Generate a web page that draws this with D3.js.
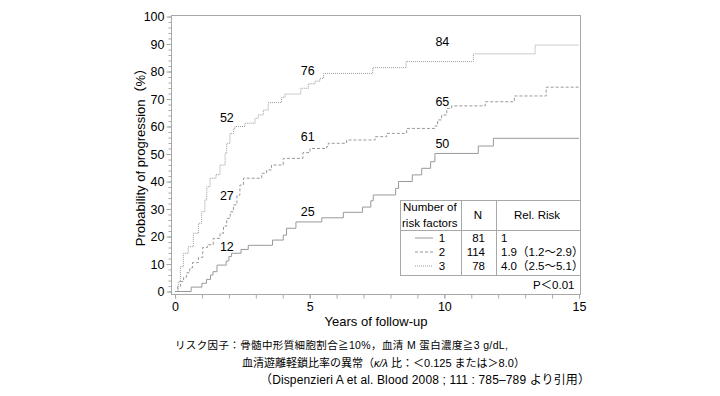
<!DOCTYPE html>
<html>
<head>
<meta charset="utf-8">
<script src="https://cdn.jsdelivr.net/npm/d3@7"></script>
<style>
  body { margin: 0; background: #fff; }
  svg text { font-family: "Liberation Sans", Arial, "Noto Sans CJK JP", sans-serif; fill: #000; }
</style>
</head>
<body>
<svg id="chart" width="720" height="396"></svg>
<script>
// Kaplan-Meier style progression curves, by number of risk factors
const groups = ["1", "2", "3"];
const groupN = [81, 114, 78];
const relRisk = ["1", "1.9（1.2～2.9）", "4.0（2.5～5.1）"];

// step curves: years and cumulative probability (%)
const years1 = [0, 0.6, 1.0, 1.17, 1.32, 1.41, 1.56, 1.9, 2.0, 2.1, 2.45, 2.72, 3.62, 4.02, 4.14, 4.49, 5.45, 6.25, 6.96, 7.27, 7.36, 8.19, 8.3, 8.81, 9.16, 9.49, 9.65, 11.26, 11.82, 15];
const prob1 = [0, 1.6, 3.0, 4.4, 6.0, 7.2, 9.6, 11.1, 12.7, 13.9, 15.3, 16.8, 18.7, 20.5, 23.0, 25.3, 26.8, 28.8, 30.7, 33.0, 35.1, 37.5, 40.0, 42.4, 44.8, 47.2, 50.2, 52.9, 55.7, 55.7];

const years2 = [0, 0.1, 0.2, 0.32, 0.43, 0.55, 0.65, 0.87, 1.03, 1.2, 1.42, 1.67, 1.8, 1.92, 2.05, 2.17, 2.3, 2.41, 2.54, 3.22, 3.4, 3.58, 4.02, 4.75, 5.01, 5.63, 5.69, 6.37, 7.43, 7.86, 8.6, 9.65, 9.75, 9.9, 10.09, 10.27, 11.52, 12.6, 13.78, 15];
const prob2 = [0, 1.8, 3.6, 5.2, 6.8, 8.6, 10.5, 12.4, 16.0, 17.0, 19.3, 21.2, 23.8, 26.6, 29.0, 31.5, 35.0, 38.7, 41.2, 43.0, 44.2, 46.0, 48.4, 50.5, 52.0, 52.7, 53.9, 55.1, 56.3, 57.5, 59.3, 60.2, 62.4, 64.2, 66.6, 67.5, 69.0, 71.1, 74.3, 74.3];

const years3 = [0, 0.12, 0.2, 0.31, 0.49, 0.68, 0.87, 0.99, 1.11, 1.18, 1.3, 1.52, 1.67, 1.86, 1.92, 2.04, 2.17, 2.23, 2.6, 2.97, 3.09, 3.28, 3.46, 3.96, 4.08, 4.67, 4.95, 5.2, 5.38, 5.51, 7.34, 8.58, 11.08, 13.37, 15];
const prob3 = [0, 3.6, 9.0, 13.9, 16.3, 21.2, 24.8, 29.0, 33.3, 38.1, 41.2, 42.5, 46.0, 50.3, 53.9, 57.5, 59.3, 60.0, 61.2, 63.0, 64.2, 66.0, 68.7, 70.6, 71.8, 73.9, 75.5, 76.5, 77.5, 79.3, 81.4, 83.6, 86.4, 89.6, 89.6];

// numbers at risk shown on the plot
const riskYears = [2, 5, 10];
const atRisk1 = [12, 25, 50];
const atRisk2 = [27, 61, 65];
const atRisk3 = [52, 76, 84];

const xTicks = [0, 5, 10, 15];
const yTicks = [0, 10, 20, 30, 40, 50, 60, 70, 80, 90, 100];

// layout
const svg = d3.select("#chart");
const frame = { left: 171.5, top: 15.5, right: 580.5, bottom: 294.5 };
const x = d3.scaleLinear().domain([0, 15]).range([175, 579]);
const y = d3.scaleLinear().domain([0, 100]).range([291.5, 16.5]);
const gray = "#999";
const styles = [
  { dash: null },
  { dash: "3,2" },
  { dash: "1,1" }
];
// vertical offsets (px) of the at-risk numbers above their curve
const labelDy = [[-10, -10, -9.5], [-23, -16.5, -13.5], [-26, -13, -20]];

// frame
svg.append("rect")
  .attr("x", frame.left).attr("y", frame.top)
  .attr("width", frame.right - frame.left)
  .attr("height", frame.bottom - frame.top)
  .attr("fill", "none").attr("stroke", "#a8a8a8");

// y axis
const yMinor = svg.append("g")
  .attr("transform", "translate(" + frame.left + ",0)")
  .call(d3.axisLeft(y).tickValues(d3.range(0, 101, 2)).tickSize(3).tickFormat(""));
const yMajor = svg.append("g")
  .attr("transform", "translate(" + frame.left + ",0)")
  .call(d3.axisLeft(y).tickValues(yTicks).tickSize(5).tickPadding(2));

// x axis
const xMinor = svg.append("g")
  .attr("transform", "translate(0," + frame.bottom + ")")
  .call(d3.axisBottom(x).tickValues(d3.range(0, 16, 1)).tickSize(4).tickFormat(""));
const xMajor = svg.append("g")
  .attr("transform", "translate(0," + frame.bottom + ")")
  .call(d3.axisBottom(x).tickValues(xTicks).tickSize(4).tickPadding(4));

[yMinor, yMajor, xMinor, xMajor].forEach(function (g) {
  g.select(".domain").remove();
  g.selectAll("line").attr("stroke", "#a8a8a8");
  g.selectAll("text").attr("font-size", 12.5).attr("font-family", null);
});

// axis titles
svg.append("text")
  .attr("transform", "translate(145,154) rotate(-90)")
  .attr("text-anchor", "middle")
  .attr("font-size", 13)
  .text("Probability of progression（%）");

svg.append("text")
  .attr("x", 376).attr("y", 326)
  .attr("text-anchor", "middle")
  .attr("font-size", 13)
  .text("Years of follow-up");

// curves
const curves = [
  d3.zip(years1, prob1),
  d3.zip(years2, prob2),
  d3.zip(years3, prob3)
];
const line = d3.line()
  .x((d) => x(d[0]))
  .y((d) => y(d[1]))
  .curve(d3.curveStepAfter);

curves.forEach(function (c, i) {
  svg.append("path")
    .datum(c)
    .attr("fill", "none")
    .attr("stroke", gray)
    .attr("stroke-width", 1)
    .attr("stroke-dasharray", styles[i].dash)
    .attr("d", line);
});

// value of a step curve at a given year
function stepAt(c, t) {
  let v = 0;
  c.forEach(function (d) { if (d[0] <= t) v = d[1]; });
  return v;
}

// numbers at risk
[atRisk1, atRisk2, atRisk3].forEach(function (arr, gi) {
  arr.forEach(function (n, k) {
    svg.append("text")
      .attr("x", x(riskYears[k]) - 2)
      .attr("y", y(stepAt(curves[gi], riskYears[k])) + labelDy[gi][k])
      .attr("dy", "0.35em")
      .attr("text-anchor", "middle")
      .attr("font-size", 12.5)
      .text(n);
  });
});

// legend table
const tb = { left: 400.5, top: 200.5, right: frame.right, bottom: 275.5, col1: 461.5, col2: 496.5, head: 230.5 };
svg.append("rect")
  .attr("x", tb.left).attr("y", tb.top)
  .attr("width", tb.right - tb.left).attr("height", tb.bottom - tb.top)
  .attr("fill", "#fff").attr("stroke", "#a8a8a8");
[[tb.col1, tb.top, tb.col1, tb.bottom], [tb.col2, tb.top, tb.col2, tb.bottom], [tb.left, tb.head, tb.right, tb.head]]
  .forEach(function (l) {
    svg.append("line")
      .attr("x1", l[0]).attr("y1", l[1]).attr("x2", l[2]).attr("y2", l[3])
      .attr("stroke", "#a8a8a8");
  });

const lg = svg.append("g").attr("font-size", 11.5);
lg.append("text").attr("x", 403).attr("y", 207).attr("dy", "0.35em").text("Number of");
lg.append("text").attr("x", 402).attr("y", 223).attr("dy", "0.35em").text("risk factors");
lg.append("text").attr("x", 478).attr("y", 215).attr("dy", "0.35em").attr("text-anchor", "middle").text("N");
lg.append("text").attr("x", 537).attr("y", 215).attr("dy", "0.35em").attr("text-anchor", "middle").text("Rel. Risk");

const rowY = [238, 252, 266];
groups.forEach(function (g, i) {
  lg.append("line")
    .attr("x1", 415).attr("x2", 433)
    .attr("y1", rowY[i]).attr("y2", rowY[i])
    .attr("stroke", gray)
    .attr("stroke-dasharray", styles[i].dash);
  lg.append("text").attr("x", 442).attr("y", rowY[i]).attr("dy", "0.35em")
    .attr("text-anchor", "middle").text(g);
  lg.append("text").attr("x", 485).attr("y", rowY[i]).attr("dy", "0.35em")
    .attr("text-anchor", "end").text(groupN[i]);
  lg.append("text").attr("x", 501).attr("y", rowY[i]).attr("dy", "0.35em")
    .text(relRisk[i]);
});
lg.append("text").attr("x", 574.5).attr("y", 285).attr("dy", "0.35em")
  .attr("text-anchor", "end").text("P＜0.01");

// caption
const cap = svg.append("g");
cap.append("text").attr("x", 175).attr("y", 349)
  .attr("font-size", 10.5)
  .attr("textLength", 333).attr("lengthAdjust", "spacing")
  .text("リスク因子：骨髄中形質細胞割合≧10%，血清 M 蛋白濃度≧3 g/dL,");
const l2 = cap.append("text").attr("x", 242).attr("y", 367).attr("font-size", 11);
l2.append("tspan").text("血清遊離軽鎖比率の異常（");
l2.append("tspan").attr("font-style", "italic").text("κ/λ");
l2.append("tspan").text(" 比：＜0.125 または＞8.0）");
cap.append("text").attr("x", 260).attr("y", 384)
  .attr("font-size", 12)
  .attr("textLength", 330).attr("lengthAdjust", "spacing")
  .text("（Dispenzieri A et al. Blood 2008 ; 111 : 785–789 より引用）");
</script>
</body>
</html>
